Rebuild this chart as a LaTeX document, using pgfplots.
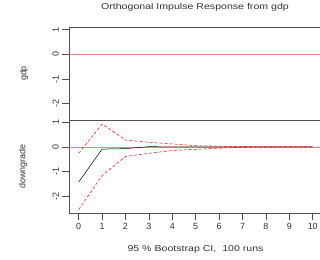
\documentclass[border=0pt]{standalone}
\usepackage{pgfplots}
\pgfplotsset{compat=1.18}
\usepackage{fontspec}
\setmainfont{Liberation Sans}
\definecolor{axgray}{RGB}{80,80,80}
\definecolor{zred}{RGB}{240,130,130}
\begin{document}
\begin{tikzpicture}[x=1bp,y=1bp]
\useasboundingbox (0,0) rectangle (320,260);
\pgfplotsset{
  panel/.style={
    scale only axis, width=250.7bp, height=93bp, anchor=south west,
    axis x line*=box, axis y line*=left,
    axis line style={axgray, line width=0.6pt},
    xmin=-0.4, xmax=10.31,
    ytick={-2,-1,0,1}, yticklabels={-2,-1,0,1},
    tick style={axgray, line width=0.6pt}, tick align=outside,
    major tick length=7bp,
    ytick pos=left,
    tick label style={font=\fontsize{9}{10}\selectfont, text=black!80},
    yticklabel style={rotate=90, anchor=south},
    clip=true,
  }
}
\begin{axis}[panel, at={(69.3bp,140bp)}, ymin=-2.66, ymax=1.107, xtick=\empty]
\addplot[zred, line width=0.7pt] coordinates {(-0.4,0) (10.31,0)};
\end{axis}
\begin{axis}[panel, at={(69.3bp,47bp)}, ymin=-2.69, ymax=1.095,
  xtick={0,1,2,3,4,5,6,7,8,9,10}, xticklabels={0,1,2,3,4,5,6,7,8,9,10}, xtick pos=left]
\addplot[zred, line width=0.7pt] coordinates {(-0.4,0) (10.31,0)};
\addplot[black, line width=0.5pt] coordinates {(0,-1.43) (1,-0.09) (2,-0.07) (3,0.01) (4,0.0) (5,0) (6,0) (7,0) (8,0) (9,0) (10,0)};
\addplot[red, line width=0.5pt, dash pattern=on 3bp off 2bp] coordinates {(0,-0.26) (1,0.93) (2,0.28) (3,0.19) (4,0.12) (5,0.05) (6,0.03) (7,0.01) (8,0.0) (9,0) (10,0)};
\addplot[red, line width=0.5pt, dash pattern=on 3bp off 2bp] coordinates {(0,-2.55) (1,-1.17) (2,-0.39) (3,-0.26) (4,-0.15) (5,-0.1) (6,-0.05) (7,-0.02) (8,0) (9,0) (10,0)};
\end{axis}
\node[font=\fontsize{8.5}{10}\selectfont, text=black!80, xscale=1.25] at (195,253) {Orthogonal Impulse Response from gdp};
\node[font=\fontsize{8.5}{10}\selectfont, text=black!80, xscale=1.25] at (195.5,11) {95 \% Bootstrap CI,\ \ 100 runs};
\node[rotate=90, font=\fontsize{9}{10}\selectfont, text=black!80] at (24,186.5) {gdp};
\node[rotate=90, font=\fontsize{9}{10}\selectfont, text=black!80] at (23,93.5) {downgrade};
\end{tikzpicture}
\end{document}
